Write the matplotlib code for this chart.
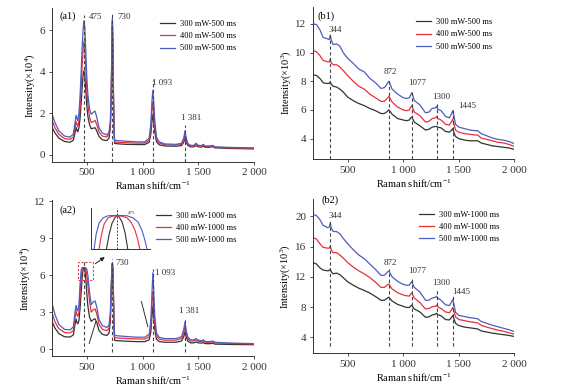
#!/usr/bin/env python3
#
# Raman spectra at different laser powers / integration times
#
import numpy as np
import matplotlib.pyplot as plt

plt.rcParams['font.family'] = ['Liberation Serif', 'DejaVu Serif']
plt.rcParams['mathtext.fontset'] = 'custom'
plt.rcParams['mathtext.rm'] = 'Liberation Serif'
plt.rcParams['mathtext.it'] = 'Liberation Serif:italic'

#
# Data (intensities)
#
labels_a1 = ['300 mW-500 ms', '400 mW-500 ms', '500 mW-500 ms']
labels_a2 = ['300 mW-1000 ms', '400 mW-1000 ms', '500 mW-1000 ms']

shift_a = [186, 215, 250, 300, 350, 380, 395, 405, 412, 420, 430, 440, 450,
           460, 468, 475, 482, 490, 500, 510, 525, 540, 560, 575, 590,
           610, 640, 680, 700, 712, 720, 726, 730, 734, 740, 745, 750, 770,
           850, 950, 1020, 1060, 1075, 1085, 1093, 1100, 1110, 1125, 1150,
           1200, 1300, 1350, 1370, 1381, 1390, 1405, 1430, 1460, 1480, 1500,
           1530, 1545, 1560, 1600, 1630, 1650, 1700, 1800, 1900, 2000]

# (a1) x10^4
a1_300 = [1.35, 1.05, 0.8, 0.64, 0.6, 0.7, 1.05, 1.32, 1.18, 1.1, 1.3, 1.75, 2.5,
          3.3, 3.85, 4.05, 3.85, 3.2, 2.4, 1.85, 1.45, 1.25, 1.28, 1.3, 1.15,
          0.88, 0.72, 0.68, 0.8, 1.3, 2.9, 5.0, 6.2, 5.1, 2.6, 1.05, 0.55, 0.53,
          0.5, 0.49, 0.49, 0.6, 1.0, 1.6, 1.92, 1.65, 1.1, 0.62, 0.48,
          0.42, 0.41, 0.44, 0.6, 0.8, 0.63, 0.45, 0.38, 0.38, 0.44, 0.38,
          0.37, 0.41, 0.36, 0.36, 0.39, 0.33, 0.32, 0.3, 0.29, 0.28]
a1_400 = [1.7, 1.3, 0.98, 0.78, 0.74, 0.85, 1.3, 1.6, 1.45, 1.35, 1.65, 2.3, 3.3,
          4.4, 5.1, 5.45, 5.2, 4.3, 3.2, 2.4, 1.8, 1.55, 1.6, 1.65, 1.45,
          1.1, 0.9, 0.85, 0.98, 1.5, 3.1, 5.3, 6.4, 5.4, 2.8, 1.2, 0.62, 0.6,
          0.58, 0.56, 0.56, 0.7, 1.25, 2.1, 2.55, 2.15, 1.4, 0.75, 0.56,
          0.48, 0.46, 0.5, 0.7, 0.97, 0.75, 0.5, 0.42, 0.42, 0.5, 0.42,
          0.41, 0.46, 0.4, 0.4, 0.43, 0.36, 0.35, 0.33, 0.32, 0.31]
a1_500 = [2.0, 1.55, 1.15, 0.9, 0.85, 1.0, 1.55, 1.9, 1.75, 1.65, 2.0, 2.8, 4.0,
          5.3, 6.1, 6.45, 6.2, 5.2, 3.8, 2.9, 2.2, 1.95, 2.05, 2.1, 1.8,
          1.3, 1.05, 0.95, 1.1, 1.6, 3.2, 5.5, 6.55, 5.6, 2.9, 1.3, 0.7, 0.68,
          0.65, 0.62, 0.62, 0.8, 1.5, 2.6, 3.1, 2.6, 1.65, 0.85, 0.62,
          0.52, 0.5, 0.55, 0.8, 1.15, 0.85, 0.55, 0.45, 0.45, 0.55, 0.45,
          0.44, 0.5, 0.42, 0.42, 0.45, 0.38, 0.37, 0.35, 0.34, 0.33]

# (a2) x10^4
a2_300 = [2.3, 1.7, 1.25, 1.0, 0.97, 1.15, 2.0, 2.45, 2.15, 2.05, 2.3, 3.3, 4.6,
          5.9, 6.5, 6.62, 6.5, 5.9, 4.6, 3.5, 2.6, 2.25, 2.4, 2.45, 2.15,
          1.5, 1.2, 1.1, 1.3, 2.3, 4.8, 6.5, 6.85, 6.4, 3.9, 1.5, 0.7, 0.68,
          0.64, 0.6, 0.6, 0.75, 1.4, 2.7, 3.5, 2.8, 1.6, 0.8, 0.6,
          0.55, 0.55, 0.65, 1.0, 1.4, 1.05, 0.65, 0.5, 0.5, 0.58, 0.5,
          0.48, 0.52, 0.44, 0.43, 0.46, 0.4, 0.39, 0.37, 0.36, 0.35]
a2_400 = [3.0, 2.2, 1.65, 1.35, 1.3, 1.5, 2.6, 3.1, 2.75, 2.65, 3.0, 4.4, 5.8,
          6.5, 6.6, 6.6, 6.6, 6.55, 6.1, 5.2, 3.9, 3.0, 3.2, 3.25, 2.85,
          2.0, 1.6, 1.5, 1.7, 2.7, 5.0, 6.7, 6.95, 6.6, 4.1, 1.8, 0.92, 0.9,
          0.86, 0.82, 0.8, 1.0, 1.85, 3.6, 4.7, 3.8, 2.1, 1.05, 0.8,
          0.72, 0.72, 0.85, 1.3, 1.8, 1.35, 0.85, 0.65, 0.65, 0.75, 0.63,
          0.6, 0.66, 0.55, 0.54, 0.58, 0.5, 0.48, 0.45, 0.43, 0.41]
a2_500 = [3.8, 2.8, 2.0, 1.6, 1.55, 1.8, 3.0, 3.55, 3.2, 3.1, 3.6, 5.2, 6.4,
          6.62, 6.62, 6.62, 6.62, 6.6, 6.5, 6.0, 4.6, 3.6, 3.85, 3.9, 3.4,
          2.4, 1.9, 1.75, 1.95, 3.0, 5.2, 6.8, 7.0, 6.7, 4.3, 2.0, 1.1, 1.08,
          1.02, 0.96, 0.96, 1.2, 2.3, 4.6, 6.2, 4.9, 2.7, 1.3, 0.95,
          0.85, 0.85, 1.0, 1.6, 2.2, 1.6, 1.0, 0.75, 0.75, 0.85, 0.72,
          0.68, 0.75, 0.62, 0.6, 0.65, 0.55, 0.52, 0.48, 0.46, 0.44]

# zoom of the 475 peak (inset of a2)
inset_x_300 = [464.4, 467, 470, 473, 475, 477, 480, 483, 485.7]
inset_y_300 = [5.0, 5.7, 6.25, 6.52, 6.6, 6.55, 6.3, 5.8, 5.0]
inset_x_400 = [457, 459, 462, 466, 470, 475, 480, 485, 489, 493, 496, 497.7]
inset_y_400 = [5.0, 5.6, 6.2, 6.5, 6.58, 6.6, 6.58, 6.5, 6.3, 5.9, 5.4, 5.0]
inset_x_500 = [452, 454, 457, 461, 466, 475, 485, 491, 496, 500, 503, 505]
inset_y_500 = [5.0, 5.7, 6.25, 6.5, 6.6, 6.62, 6.6, 6.5, 6.3, 5.9, 5.4, 5.0]

shift_b = [186, 220, 250, 280, 300, 320, 335, 344, 352, 370, 400, 430, 460,
           500, 550, 600, 650, 700, 750, 800, 830, 850, 862, 872, 882, 900,
           950, 1000, 1030, 1055, 1067, 1077, 1087, 1100, 1150, 1200, 1230,
           1260, 1290, 1300, 1310, 1340, 1380, 1415, 1435, 1445, 1455, 1470,
           1500, 1550, 1600, 1650, 1670, 1700, 1750, 1800, 1850, 1900, 1950,
           2000]

# (b1) x10^3
b1_300 = [8.45, 8.4, 8.2, 7.9, 7.85, 7.85, 7.85, 7.95, 7.8, 7.65, 7.6, 7.45, 7.25,
          6.9, 6.65, 6.45, 6.3, 6.1, 5.95, 5.75, 5.75, 5.85, 5.95, 6.0, 5.9, 5.7,
          5.4, 5.3, 5.25, 5.3, 5.45, 5.5, 5.35, 5.15, 4.9, 4.6, 4.65,
          4.8, 4.85, 4.85, 4.8, 4.75, 4.5, 4.45, 4.6, 4.7, 4.45, 4.15,
          4.0, 3.9, 3.85, 3.85, 3.85, 3.7, 3.6, 3.5, 3.45, 3.4, 3.35, 3.25]
b1_400 = [10.15, 10.05, 9.8, 9.45, 9.4, 9.35, 9.35, 9.55, 9.3, 9.15, 9.15, 9.0, 8.75,
          8.4, 8.0, 7.65, 7.45, 7.1, 6.85, 6.6, 6.6, 6.75, 6.85, 6.95, 6.8, 6.55,
          6.2, 6.0, 5.95, 6.0, 6.2, 6.3, 6.1, 5.85, 5.6, 5.15, 5.2,
          5.4, 5.45, 5.55, 5.4, 5.3, 5.0, 4.95, 5.2, 5.35, 5.05, 4.6,
          4.45, 4.35, 4.3, 4.25, 4.25, 4.05, 3.95, 3.85, 3.75, 3.7, 3.6, 3.45]
b1_500 = [12.0, 11.95, 11.6, 11.05, 11.0, 10.95, 10.9, 11.2, 10.9, 10.55, 10.6, 10.45, 10.0,
          9.6, 9.25, 8.85, 8.65, 8.2, 7.9, 7.5, 7.55, 7.75, 7.9, 8.0, 7.8, 7.45,
          7.1, 6.85, 6.8, 6.85, 7.05, 7.2, 6.95, 6.65, 6.35, 5.8, 5.85,
          6.1, 6.15, 6.25, 6.05, 5.95, 5.55, 5.45, 5.75, 5.95, 5.6, 5.0,
          4.8, 4.7, 4.6, 4.55, 4.55, 4.35, 4.2, 4.05, 3.95, 3.9, 3.8, 3.65]

# (b2) x10^3
b2_300 = [13.9, 13.7, 13.2, 12.9, 12.85, 12.8, 12.85, 13.0, 12.7, 12.4, 12.5, 12.3, 11.9,
          11.35, 10.9, 10.5, 10.2, 9.85, 9.4, 8.9, 8.9, 9.1, 9.25, 9.3, 9.1, 8.8,
          8.35, 8.1, 7.95, 7.95, 8.15, 8.25, 8.0, 7.75, 7.35, 6.65, 6.7,
          6.95, 7.05, 7.2, 7.0, 6.85, 6.35, 6.3, 6.65, 6.9, 6.5, 5.85,
          5.55, 5.35, 5.25, 5.15, 5.1, 4.85, 4.7, 4.55, 4.45, 4.35, 4.25, 4.1]
b2_400 = [17.2, 17.0, 16.4, 15.9, 15.85, 15.8, 15.8, 16.05, 15.6, 15.2, 15.2, 14.9, 14.5,
          13.9, 13.3, 12.8, 12.4, 11.9, 11.3, 10.6, 10.6, 10.85, 11.0, 11.05, 10.8, 10.4,
          9.9, 9.6, 9.5, 9.45, 9.75, 9.85, 9.55, 9.2, 8.6, 7.75, 7.8,
          8.05, 8.1, 8.25, 8.05, 7.8, 7.35, 7.25, 7.65, 7.95, 7.5, 6.7,
          6.35, 6.2, 6.05, 5.95, 5.9, 5.6, 5.35, 5.15, 4.95, 4.8, 4.6, 4.4]
b2_500 = [20.3, 20.1, 19.6, 18.8, 18.7, 18.5, 18.6, 19.1, 18.5, 18.0, 18.0, 17.7, 17.1,
          16.4, 15.6, 14.9, 14.4, 13.7, 13.0, 12.2, 12.2, 12.5, 12.7, 12.75, 12.5, 12.0,
          11.4, 11.0, 10.9, 10.9, 11.2, 11.35, 11.0, 10.6, 10.0, 8.9, 8.9,
          9.2, 9.3, 9.45, 9.2, 8.9, 8.3, 8.2, 8.7, 9.0, 8.4, 7.3,
          6.9, 6.75, 6.6, 6.5, 6.45, 6.1, 5.85, 5.6, 5.4, 5.2, 5.0, 4.75]

# peak markers: (position, line top, label, label left x, label y)
peaks_a1 = [(475, 6.75, '475', 522, 6.65), (730, 6.8, '730', 778, 6.65),
            (1093, 3.6, '1 093', 1082, 3.45), (1381, 1.45, '1 381', 1345, 1.75)]
peaks_a2 = [(475, 7.25, '', 0, 0), (730, 7.3, '730', 755, 7.0),
            (1093, 6.5, '1 093', 1115, 6.2), (1381, 2.5, '1 381', 1330, 3.05)]
peaks_b1 = [(344, 11.35, '344', 330, 11.6), (872, 8.2, '872', 825, 8.65),
            (1077, 7.4, '1077', 1043, 7.85), (1300, 6.4, '1300', 1259, 6.9),
            (1445, 6.0, '1445', 1493, 6.3)]
peaks_b2 = [(344, 19.4, '344', 330, 20.1), (872, 13.0, '872', 825, 13.9),
            (1077, 11.9, '1077', 1043, 12.75), (1300, 10.4, '1300', 1259, 11.15),
            (1445, 9.6, '1445', 1438, 10.05)]

colors = ['#333333', '#e83038', '#4e5cc0']
xticks = [500, 1000, 1500, 2000]
xticklabels = ['500', '1 000', '1 500', '2 000']

#
# Create figure
#
fig = plt.figure(figsize=(5.64, 3.88), dpi=100)


def panel(rect, x, series, labels, ylim, yticks, ylabel, peaks,
          tag, tagpos, dash_bottom=None, legpos=(1.0, 1.0)):
    """ Draw one spectrum panel """
    ax = fig.add_axes(rect)
    for y, c, lab in zip(series, colors, labels):
        ax.plot(x, y, color=c, lw=0.9, label=lab)
    lo = ylim[0] if dash_bottom is None else dash_bottom
    for p, top, txt, tx, ty in peaks:
        ax.plot([p, p], [lo, top], color='#444444', lw=0.8, ls=(0, (3, 2.2)))
        if txt:
            ax.text(tx, ty, txt, fontsize=6.5, ha='left', va='center',
                    color='#333333')
    ax.set_xlim(186, 2000)
    ax.set_ylim(*ylim)
    ax.set_xticks(xticks)
    ax.set_xticklabels(xticklabels)
    ax.set_yticks(yticks)
    ax.tick_params(direction='out', length=2.5, width=0.6, labelsize=8,
                   pad=2, colors='#333333')
    for s in ['top', 'right']:
        ax.spines[s].set_visible(False)
    for s in ['left', 'bottom']:
        ax.spines[s].set_linewidth(0.7)
        ax.spines[s].set_color('#333333')
    ax.set_xlabel('Raman shift/cm$^{-1}$', fontsize=7.5, labelpad=2)
    ax.set_ylabel(ylabel, fontsize=7.5, labelpad=2)
    ax.text(tagpos[0], tagpos[1], tag, fontsize=7.5, transform=ax.transAxes,
            va='center')
    ax.legend(loc='upper right', bbox_to_anchor=legpos, frameon=False,
              fontsize=6.0, handlelength=1.8, handletextpad=0.6,
              labelspacing=0.5, borderaxespad=0)
    return ax


#
# (a1)
#
ax1 = panel([0.0917, 0.5825, 0.3587, 0.396], shift_a, [a1_300, a1_400, a1_500],
            labels_a1, (-0.35, 7.05), [0, 2, 4, 6],
            'Intensity(×10$^4$)', peaks_a1, '(a1)', (0.04, 0.95),
            legpos=(0.93, 0.945))

#
# (b1)
#
ax2 = panel([0.5544, 0.5894, 0.3578, 0.3936], shift_b, [b1_300, b1_400, b1_500],
            labels_a1, (2.56, 13.2), [4, 6, 8, 10, 12],
            'Intensity(×10$^3$)', peaks_b1, '(b1)', (0.025, 0.94),
            legpos=(0.905, 0.945))

#
# (a2)
#
ax3 = panel([0.0917, 0.0817, 0.3587, 0.4028], shift_a, [a2_300, a2_400, a2_500],
            labels_a2, (-0.59, 12.1), [0, 3, 6, 9, 12],
            'Intensity(×10$^4$)', peaks_a2, '(a2)', (0.04, 0.935),
            dash_bottom=-0.27, legpos=(0.93, 0.945))

# red box round the saturated 475 peak, arrow to the inset and leader lines
ax3.plot([418, 552, 552, 418, 418], [5.6, 5.6, 7.05, 7.05, 5.6],
         color='#e8404a', lw=0.8, ls=(0, (2, 1.5)))
ax3.annotate('', xy=(682, 7.6), xytext=(557, 6.8),
             arrowprops=dict(arrowstyle='-|>', color='#222222', lw=0.7,
                             mutation_scale=6))
ax3.plot([522, 581], [0.46, 2.2], color='#333333', lw=0.7)
ax3.plot([990, 1048], [3.85, 1.81], color='#333333', lw=0.7)

# inset
axi = fig.add_axes([0.161, 0.358, 0.105, 0.106])
axi.plot(inset_x_300, inset_y_300, color=colors[0], lw=0.8)
axi.plot(inset_x_400, inset_y_400, color=colors[1], lw=0.8)
axi.plot(inset_x_500, inset_y_500, color=colors[2], lw=0.8)
axi.plot([475, 475], [5.0, 6.95], color='#444444', lw=0.7, ls=(0, (2, 1.5)))
axi.text(486, 6.75, '475', fontsize=3.5, color='#333333', va='center')
axi.set_xlim(448.7, 508)
axi.set_ylim(5.0, 6.975)
axi.set_xticks([])
axi.set_yticks([])
for s in ['top', 'right']:
    axi.spines[s].set_visible(False)
for s in ['left', 'bottom']:
    axi.spines[s].set_linewidth(0.7)
    axi.spines[s].set_color('#333333')
axi.patch.set_alpha(0)

#
# (b2)
#
ax4 = panel([0.5544, 0.0894, 0.3578, 0.3976], shift_b, [b2_300, b2_400, b2_500],
            labels_a2, (1.88, 22.3), [4, 8, 12, 16, 20],
            'Intensity(×10$^3$)', peaks_b2, '(b2)', (0.042, 0.99),
            dash_bottom=2.9, legpos=(0.94, 0.945))

fig.savefig('out.png', dpi=100)
